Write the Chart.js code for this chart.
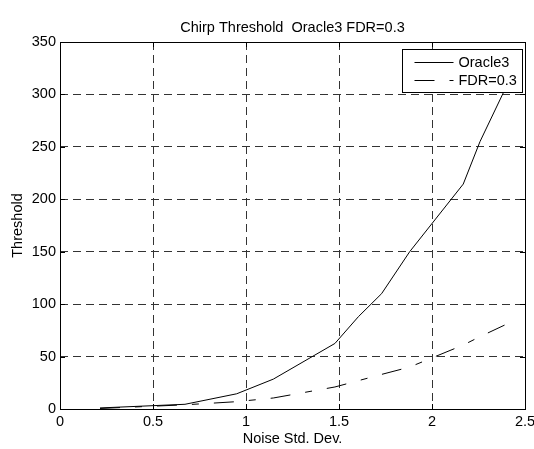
<!DOCTYPE html>
<html>
<head>
<meta charset="utf-8">
<script src="https://cdn.jsdelivr.net/npm/chart.js@4/dist/chart.umd.min.js"></script>
<style>
    html, body { margin: 0; padding: 0; background: #fff; }
</style>
</head>
<body>
<canvas id="chirpChart" width="534" height="449"></canvas>
<script>
// Values
const noiseStd = [0.215, 0.672, 0.95, 1.147, 1.478, 1.604, 1.729, 1.88, 2.168, 2.258, 2.39];
const oracle3 = [1, 4.5, 14.5, 28.5, 62.5, 88, 110, 150, 214.5, 255, 304];
const fdr03 = [0.5, 4, 7, 10.5, 21, 27, 33, 40, 61, 69, 80];
const xTicks = [0, 0.5, 1, 1.5, 2, 2.5];
const yTicks = [0, 50, 100, 150, 200, 250, 300, 350];

const font = { family: '"Liberation Sans", Arial, Helvetica, sans-serif', size: 14.5 };
const fdrDash = [20, 15, 7, 15];

const toPoints = (ys) => noiseStd.map((x, i) => ({ x: x, y: ys[i] }));

// MATLAB style box with inward ticks + legend drawn inside the axes
const boxPlugin = {
    id: 'matlabBox',
    afterDatasetsDraw(chart) {
        const ctx = chart.ctx;
        const a = chart.chartArea;
        const xs = chart.scales.x;
        const ys = chart.scales.y;
        ctx.save();
        ctx.strokeStyle = '#000';
        ctx.lineWidth = 1;
        ctx.setLineDash([]);
        ctx.strokeRect(Math.round(a.left) + 0.5, Math.round(a.top) + 0.5,
            Math.round(a.right - a.left), Math.round(a.bottom - a.top));
        ctx.beginPath();
        xTicks.forEach(v => {
            const px = Math.round(xs.getPixelForValue(v)) + 0.5;
            ctx.moveTo(px, a.bottom); ctx.lineTo(px, a.bottom - 5);
            ctx.moveTo(px, a.top); ctx.lineTo(px, a.top + 5);
        });
        yTicks.forEach(v => {
            const py = Math.round(ys.getPixelForValue(v)) + 0.5;
            ctx.moveTo(a.left, py); ctx.lineTo(a.left + 5, py);
            ctx.moveTo(a.right, py); ctx.lineTo(a.right - 5, py);
        });
        ctx.stroke();

        // legend
        const w = 120, h = 43;
        const lx = Math.round(a.right - 3 - w) + 0.5;
        const ly = Math.round(a.top + 7) + 0.5;
        ctx.fillStyle = '#fff';
        ctx.fillRect(lx, ly, w, h);
        ctx.strokeRect(lx, ly, w, h);
        ctx.font = font.size + 'px ' + font.family;
        ctx.textBaseline = 'middle';
        ctx.textAlign = 'left';
        chart.data.datasets.forEach((ds, i) => {
            const y = Math.round(ly + 12 + i * 18.5) + 0.5;
            ctx.setLineDash(ds.borderDash || []);
            ctx.beginPath();
            ctx.moveTo(lx + 12, y);
            ctx.lineTo(lx + 51, y);
            ctx.stroke();
            ctx.setLineDash([]);
            ctx.fillStyle = '#000';
            ctx.fillText(ds.label, lx + 56, y);
        });
        ctx.restore();
    }
};

const chirpChart = new Chart(document.getElementById('chirpChart'), {
    type: 'scatter',
    data: {
        datasets: [{
            label: 'Oracle3',
            data: toPoints(oracle3),
            showLine: true,
            borderColor: '#000',
            borderWidth: 1,
            pointRadius: 0,
            tension: 0,
        }, {
            label: 'FDR=0.3',
            data: toPoints(fdr03),
            showLine: true,
            borderColor: '#000',
            borderWidth: 1,
            borderDash: fdrDash,
            pointRadius: 0,
            tension: 0,
        }],
    },
    options: {
        responsive: false,
        animation: false,
        devicePixelRatio: 1,
        layout: { padding: { top: 0, right: 9, bottom: 0, left: 0 } },
        plugins: {
            legend: { display: false },
            tooltip: { enabled: false },
            title: {
                display: true,
                fullSize: false,
                text: 'Chirp Threshold  Oracle3 FDR=0.3',
                color: '#000',
                font: { ...font, weight: 'normal' },
                padding: { top: 19, bottom: 5.6 },
            },
        },
        scales: {
            x: {
                type: 'linear',
                min: 0,
                max: 2.5,
                afterBuildTicks: (s) => { s.ticks = xTicks.map(v => ({ value: v })); },
                afterFit: (s) => { s.height = 40; s.paddingLeft = 0; s.paddingRight = 0; },
                ticks: { color: '#000', font: font, padding: 4, maxRotation: 0, callback: (v) => String(v) },
                grid: { color: '#333', lineWidth: 1, drawTicks: false },
                border: { display: false, dash: [8, 5] },
                title: {
                    display: true,
                    text: 'Noise Std. Dev.',
                    color: '#000',
                    font: font,
                    padding: { top: 0, bottom: 1 },
                },
            },
            y: {
                min: 0,
                max: 350,
                afterBuildTicks: (s) => { s.ticks = yTicks.map(v => ({ value: v })); },
                afterFit: (s) => { s.width = 60; s.paddingTop = 0; s.paddingBottom = 0; },
                ticks: { color: '#000', font: font, padding: 4, callback: (v) => String(v) },
                grid: { color: '#333', lineWidth: 1, drawTicks: false },
                border: { display: false, dash: [8, 5] },
                title: {
                    display: true,
                    text: 'Threshold',
                    color: '#000',
                    font: font,
                    padding: { top: 9, bottom: 0 },
                },
            },
        },
    },
    plugins: [boxPlugin],
});
</script>
</body>
</html>
